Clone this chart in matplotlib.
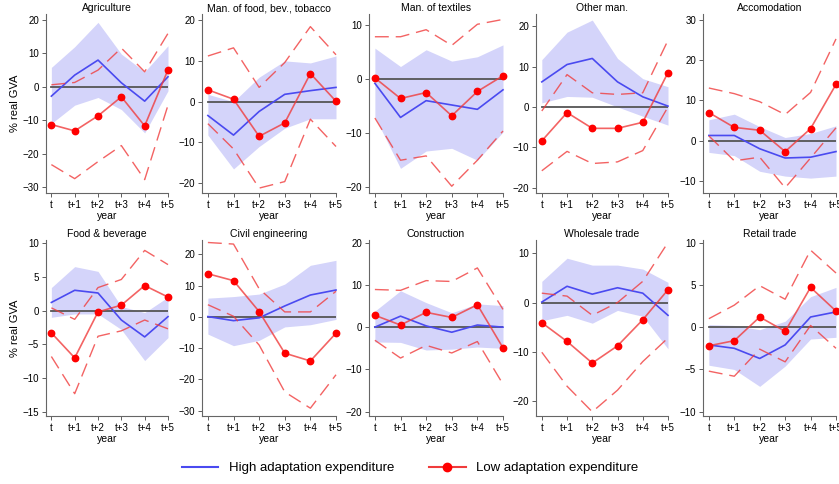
import matplotlib.pyplot as plt
import numpy as np

plt.rcParams['font.family'] = ['Liberation Sans', 'DejaVu Sans']

years = ["t", "t+1", "t+2", "t+3", "t+4", "t+5"]

titles = ["Agriculture", "Man. of food, bev., tobacco", "Man. of textiles", "Other man.",
          "Accomodation", "Food & beverage", "Civil engineering", "Construction",
          "Wholesale trade", "Retail trade"]

# high adaptation: point estimate and confidence band
high = [[-2.8, 3.5, 8.0, 1.2, -4.3, 3.0],
        [-3.4, -8.2, -2.4, 1.8, 2.7, 3.5],
        [-0.8, -7.1, -4.0, -4.8, -5.6, -2.0],
        [6.2, 10.5, 12.0, 6.2, 2.5, 0.2],
        [1.3, 1.3, -2.0, -4.3, -4.1, -2.7],
        [1.2, 3.0, 2.6, -1.4, -3.9, -0.9],
        [0.1, -1.2, -0.3, 3.5, 7.0, 8.6],
        [0.0, 2.6, 0.3, -1.2, 0.5, 0.0],
        [0.1, 3.3, 1.7, 3.0, 1.9, -2.6],
        [-2.1, -2.5, -3.7, -2.1, 1.2, 1.8]]
high_hi = [[5.8, 12.0, 19.3, 9.8, 4.5, 12.3],
           [1.8, 0.0, 6.0, 10.0, 9.5, 11.2],
           [5.7, 2.3, 5.4, 3.3, 4.1, 6.3],
           [11.7, 18.5, 21.5, 12.0, 7.0, 5.0],
           [5.2, 6.6, 3.5, 0.8, 1.8, 3.7],
           [3.4, 6.5, 5.8, 0.6, -0.3, 2.0],
           [6.0, 6.5, 7.3, 10.5, 16.5, 18.1],
           [3.8, 8.6, 5.8, 3.4, 5.5, 5.1],
           [4.3, 9.0, 7.6, 7.6, 6.8, 4.1],
           [0.3, 0.2, -0.3, 0.7, 3.6, 4.7]]
high_lo = [[-11.0, -5.5, -3.2, -6.8, -13.8, -1.2],
           [-8.2, -16.5, -11.0, -6.5, -4.2, -4.2],
           [-7.0, -16.5, -13.3, -12.8, -15.0, -9.8],
           [1.0, 2.6, 2.4, 0.0, -2.3, -4.5],
           [-2.9, -3.7, -7.6, -8.8, -9.3, -8.8],
           [-1.0, -0.5, -0.5, -2.8, -7.4, -4.0],
           [-5.5, -9.2, -7.5, -3.2, -2.5, -0.8],
           [-3.5, -3.6, -5.4, -5.2, -4.7, -5.0],
           [-3.7, -2.6, -4.2, -1.6, -2.8, -9.4],
           [-4.5, -5.0, -7.0, -4.6, -1.4, -1.2]]

# low adaptation: point estimate and dashed bounds
low = [[-11.3, -13.2, -8.7, -3.0, -11.7, 5.1],
       [2.9, 0.6, -8.5, -5.2, 6.9, 0.1],
       [0.2, -3.6, -2.5, -6.8, -2.3, 0.6],
       [-8.4, -1.4, -5.3, -5.3, -3.8, 8.5],
       [7.0, 3.3, 2.6, -2.7, 3.0, 14.0],
       [-3.3, -7.0, -0.2, 0.8, 3.7, 2.0],
       [13.8, 11.6, 1.7, -11.6, -14.1, -5.2],
       [2.8, 0.5, 3.5, 2.3, 5.3, -4.9],
       [-4.1, -7.9, -12.3, -8.8, -3.5, 2.6],
       [-2.2, -1.6, 1.2, -0.5, 4.7, 1.9]]
low_hi = [[0.6, 1.3, 5.0, 11.6, 4.5, 16.0],
          [11.2, 13.2, 3.5, 9.6, 18.4, 11.5],
          [7.8, 7.8, 9.1, 6.2, 10.1, 11.0],
          [-1.0, 8.0, 3.5, 3.1, 3.5, 16.5],
          [13.1, 11.7, 9.7, 6.5, 12.0, 25.3],
          [0.4, -1.3, 3.4, 4.6, 8.9, 6.8],
          [23.8, 23.3, 9.0, 1.6, 1.6, 8.2],
          [8.9, 8.7, 11.0, 10.8, 14.0, 4.2],
          [1.9, 1.3, -2.6, 0.0, 4.3, 12.2],
          [1.0, 2.6, 4.9, 3.3, 9.1, 6.4]]
low_lo = [[-23.3, -27.5, -22.4, -17.6, -27.8, -5.5],
          [-5.4, -11.6, -21.2, -19.6, -4.3, -11.0],
          [-7.2, -15.0, -14.2, -19.8, -15.0, -9.6],
          [-15.8, -11.0, -14.0, -13.6, -10.8, 0.0],
          [1.2, -5.0, -4.1, -11.7, -4.3, 3.2],
          [-6.8, -12.3, -3.8, -3.0, -1.4, -2.7],
          [3.9, 0.2, -9.0, -24.0, -29.2, -18.5],
          [-3.1, -7.3, -4.3, -6.1, -3.4, -13.5],
          [-10.1, -17.0, -22.2, -17.8, -12.0, -7.2],
          [-5.2, -5.8, -2.6, -4.1, 0.2, -2.5]]

yticks = [[-30, -20, -10, 0, 10, 20], [-20, -10, 0, 10, 20], [-20, -10, 0, 10],
          [-20, -10, 0, 10, 20], [-10, 0, 10, 20, 30], [-15, -10, -5, 0, 5, 10],
          [-30, -20, -10, 0, 10, 20], [-20, -10, 0, 10, 20], [-20, -10, 0, 10],
          [-10, -5, 0, 5, 10]]
ylims = [(-31.8, 21.8), (-22.4, 21.5), (-21.05, 12.0), (-21.3, 23.0), (-13.0, 31.5),
         (-15.6, 10.44), (-31.7, 24.6), (-21.0, 20.6), (-23.05, 12.7), (-10.5, 10.3)]

W, H = 839, 484
lefts = [46, 202, 369, 536, 703]
widths = [122, 134, 134, 132, 133]
rows = [(193, 179), (416, 176)]  # (bottom spine px, height px)

blue = "#4a4af0"
band = "#d4d4fa"
red = "#f03c3c"
dash = (0, (10, 5))

fig = plt.figure(figsize=(W / 100, H / 100), dpi=100)
x = np.arange(6)

for i in range(10):
    r, c = divmod(i, 5)
    bpx, hpx = rows[r]
    ax = fig.add_axes([lefts[c] / W, (H - bpx) / H, widths[c] / W, hpx / H])
    ax.fill_between(x, high_lo[i], high_hi[i], color=band, lw=0, zorder=1)
    ax.plot([0, 5], [0, 0], color="#555555", lw=1.3, zorder=2)
    ax.plot(x, high[i], color=blue, lw=1.2, zorder=3, clip_on=False)
    ax.plot(x, low_hi[i], color=red, lw=1.0, ls=dash, alpha=0.8, zorder=3, clip_on=False)
    ax.plot(x, low_lo[i], color=red, lw=1.0, ls=dash, alpha=0.8, zorder=3, clip_on=False)
    ax.plot(x, low[i], color=red, lw=1.2, alpha=0.8, zorder=4, clip_on=False)
    ax.plot(x, low[i], ls="none", marker="o", ms=4.6, color="#ff0000", zorder=5, clip_on=False)
    ax.set_xlim(-0.23, 5.0)
    ax.set_ylim(*ylims[i])
    ax.set_yticks(yticks[i])
    ax.set_xticks(x)
    ax.set_xticklabels(years)
    ax.tick_params(labelsize=7, length=3, width=0.6, color="#444444", pad=2)
    for s in ["top", "right"]:
        ax.spines[s].set_visible(False)
    for s in ["left", "bottom"]:
        ax.spines[s].set_color("#666666")
        ax.spines[s].set_linewidth(0.8)
    ax.set_title(titles[i], fontsize=7.5, pad=2)
    ax.set_xlabel("year", fontsize=7.5, labelpad=1)
    if c == 0:
        ax.set_ylabel("% real GVA", fontsize=8, labelpad=2)

handles = [plt.Line2D([], [], color=blue, lw=1.5),
           plt.Line2D([], [], color=red, lw=1.5, marker="o", ms=6, mfc="#ff0000", mec="#ff0000")]
fig.legend(handles, ["High adaptation expenditure", "Low adaptation expenditure"],
           loc="center", bbox_to_anchor=(410 / W, 1 - 468 / H), ncol=2, frameon=False,
           fontsize=9.5, handlelength=2.8, columnspacing=2.6)

fig.savefig("out.png", dpi=100, facecolor="white")
